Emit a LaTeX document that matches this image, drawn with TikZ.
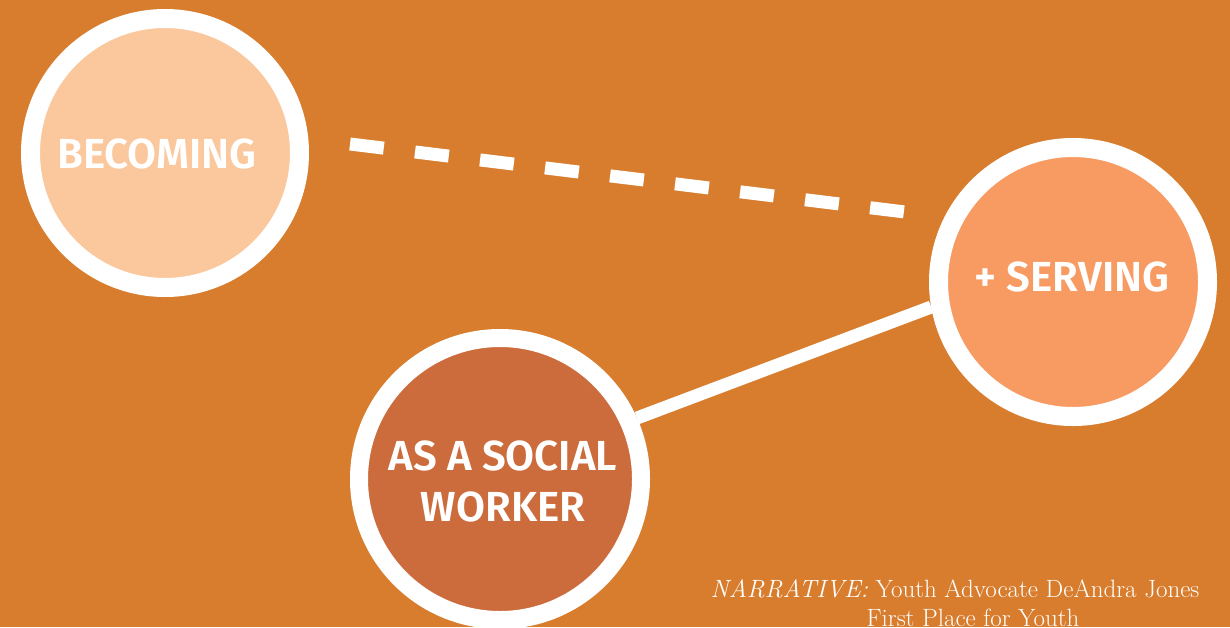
\documentclass[tikz,border=0pt]{standalone}
\usepackage{fontspec}
\newfontfamily\labelfont{Fira Sans SemiBold}
\definecolor{bgorange}{RGB}{216,125,46}
\definecolor{peach}{RGB}{251,200,158}
\definecolor{salmon}{RGB}{248,155,98}
\definecolor{rust}{RGB}{204,108,60}
\tikzset{
  ring/.style={circle, draw=white, line width=19pt, inner sep=0pt, minimum size=269pt},
  word/.style={text=white, font=\labelfont\fontsize{42}{51}\selectfont, align=center, inner sep=0pt},
  link/.style={draw=white, line width=13pt},
  credit/.style={text=white, font=\fontsize{25}{29}\selectfont, anchor=base, inner sep=0pt}
}
\begin{document}
\begin{tikzpicture}[x=1pt, y=-1pt]
  % canvas
  \fill[bgorange] (0,0) rectangle (1230,627);
  \useasboundingbox (0,0) rectangle (1230,627);
  \clip (0,0) rectangle (1230,627);

  % the three circles
  \node[ring, fill=peach] (becoming) at (165,153) {};
  \node[ring, fill=salmon] (serving) at (1073,282) {};
  \node[ring, fill=rust, line width=18pt, minimum size=282pt] (social) at (500,479) {};

  % labels
  \node[word] (tBecoming) at (157,154) {BECOMING};
  \node[word] (tServing) at (1072,277) {+ SERVING};
  \node[word] (tSocial) at (503,481) {AS A SOCIAL\\WORKER};

  % dashed link, free-floating between the top circles
  \coordinate (dashA) at (350,144);
  \coordinate (dashB) at (905,212);
  \draw[link, dash pattern=on 34pt off 31.5pt] (dashA) -- (dashB);

  % solid link between the lower circles
  \draw[link] (social.24) -- (serving.190);

  % credit line
  \node[credit] (credA) at (955,597) {\textit{NARRATIVE:} Youth Advocate DeAndra Jones};
  \node[credit] (credB) at (973,626) {First Place for Youth};
\end{tikzpicture}
\end{document}
